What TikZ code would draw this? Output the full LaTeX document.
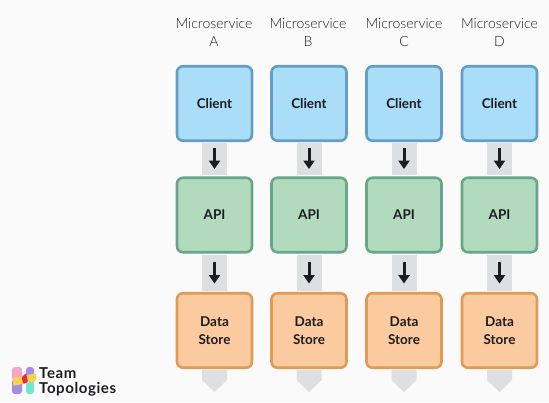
\documentclass[tikz,border=0pt]{standalone}
\usepackage{fontspec}
\setmainfont{Lato}
\newfontfamily\lightf{Lato Light}
\usetikzlibrary{arrows.meta,calc}
\definecolor{bgc}{HTML}{FAFAFA}
\definecolor{barc}{HTML}{DEDFE1}
\definecolor{clientf}{HTML}{AADDF8}
\definecolor{clientd}{HTML}{659DC4}
\definecolor{apif}{HTML}{B2DABD}
\definecolor{apid}{HTML}{68A58B}
\definecolor{dataf}{HTML}{FBCB9F}
\definecolor{datad}{HTML}{DF9A55}
\definecolor{inkc}{HTML}{1C1C22}
\definecolor{logoa}{HTML}{F3A6C8}
\definecolor{logob}{HTML}{A48BE8}
\definecolor{logoc}{HTML}{6FE8D2}
\definecolor{logod}{HTML}{F8D24A}
\definecolor{logoe}{HTML}{E8244F}
\tikzset{x=1pt,y=-1pt,
 tier/.style={draw,line width=2.6pt,rounded corners=6pt,minimum width=75pt,minimum height=74.5pt,inner sep=0pt,align=center,font=\fontsize{13.5}{18}\selectfont\bfseries,text=inkc},
 clientbox/.style={tier,fill=clientf,draw=clientd},
 apibox/.style={tier,fill=apif,draw=apid},
 databox/.style={tier,fill=dataf,draw=datad},
 track/.style={draw=barc,line width=25pt},
 flow/.style={draw=inkc,line width=3pt,-{Triangle[width=11pt,length=8.5pt]}},
 title/.style={align=center,font=\lightf\fontsize{14}{17.5}\selectfont,text=inkc,inner sep=0pt},
 brand/.style={font=\fontsize{15}{15}\selectfont\bfseries\addfontfeature{LetterSpace=4},text=inkc,anchor=base west,inner sep=0pt}}
\begin{document}
\begin{tikzpicture}
\path[fill=bgc,use as bounding box] (0,0) rectangle (549,402);
\foreach \n/\cx/\tx/\lab in {a/214.5/214/A,b/309/308/B,c/404/404/C,d/499.5/499.5/D}{
  \node[clientbox] (\n1) at (\cx,103.5) {Client};
  \node[apibox] (\n2) at (\cx,215) {API};
  \node[databox] (\n3) at (\cx,330.5) {Data\\Store};
  \node[title] (\n0) at (\tx,32.5) {Microservice\\\lab};
  \path[fill=barc] ($(\n3.south)+(-12.5,1)$) -- ($(\n3.south)+(12.5,1)$) -- ($(\n3.south)+(12.5,11)$) -- ($(\n3.south)+(0,23)$) -- ($(\n3.south)+(-12.5,11)$) -- cycle;
  \draw[track] ($(\n1.south)+(0,1)$) -- ($(\n2.north)+(0,-1)$);
  \draw[track] ($(\n2.south)+(0,1)$) -- ($(\n3.north)+(0,-1)$);
  \draw[flow] ($(\n1.south)+(0,6)$) -- ($(\n1.south)+(0,27)$);
  \draw[flow] ($(\n2.south)+(0,8)$) -- ($(\n2.south)+(0,30)$);
}
% logo
\fill[rounded corners=3pt,fill=logoa] (12,367) rectangle (22,381);
\fill[rounded corners=3pt,fill=logob] (12,379) rectangle (22,394);
\fill[rounded corners=3pt,fill=logob] (26,367) rectangle (34,381);
\fill[rounded corners=3pt,fill=logoc] (26,379) rectangle (34,394);
\fill[rounded corners=1.5pt,fill=logod] (13,378) -- (36,373) -- (36,381) -- (13,386) -- cycle;
\fill[fill=logoe,rounded corners=1pt] (22,377) -- (26,373) -- (28,382) -- (23,384) -- cycle;
\node[brand] (team) at (39,378.5) {Team};
\node[brand] (topo) at (39,393) {Topologies};
\end{tikzpicture}
\end{document}
